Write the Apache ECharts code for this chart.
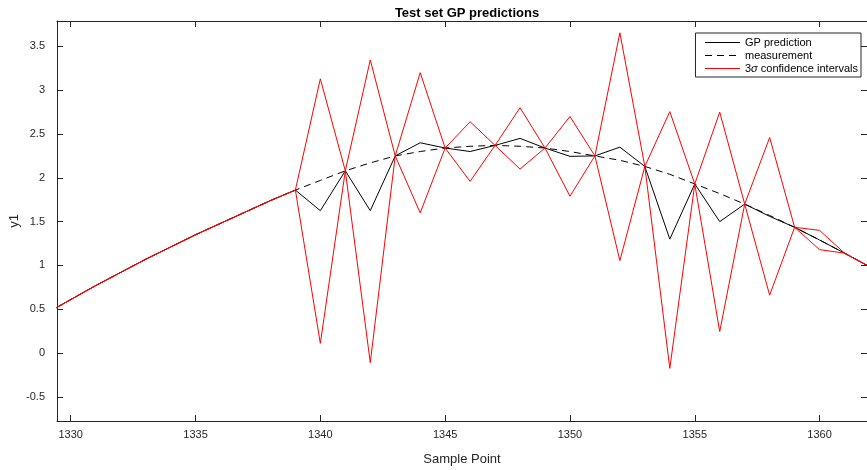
<!DOCTYPE html>
<html>
<head>
<meta charset="utf-8">
<script src="https://cdn.jsdelivr.net/npm/echarts@6/dist/echarts.min.js"></script>
<style>html,body{margin:0;padding:0;background:#fff}#c{width:867px;height:470px}</style>
</head>
<body>
<div id="c"></div>
<script>
const samples = [1329,1330,1331,1332,1333,1334,1335,1336,1337,1338,1339,1340,1341,1342,1343,1344,1345,1346,1347,1348,1349,1350,1351,1352,1353,1354,1355,1356,1357,1358,1359,1360,1361,1362];
const prediction = [0.45,0.61,0.77,0.92,1.07,1.21,1.35,1.48,1.61,1.74,1.86,1.625,2.08,1.625,2.25,2.40,2.34,2.30,2.37,2.45,2.34,2.245,2.25,2.35,2.13,1.30,1.93,1.50,1.70,1.56,1.435,1.29,1.14,0.985];
const measurement = [0.45,0.61,0.77,0.92,1.07,1.21,1.35,1.48,1.61,1.74,1.86,1.97,2.08,2.17,2.25,2.30,2.34,2.36,2.37,2.36,2.34,2.30,2.25,2.20,2.13,2.04,1.93,1.82,1.70,1.57,1.435,1.29,1.14,0.985];
const upper = [0.45,0.61,0.77,0.92,1.07,1.21,1.35,1.48,1.61,1.74,1.86,3.13,2.08,3.345,2.25,3.20,2.34,2.64,2.37,2.80,2.34,2.70,2.25,3.655,2.13,2.755,1.93,2.75,1.70,2.46,1.435,1.40,1.14,0.985];
const lower = [0.45,0.61,0.77,0.92,1.07,1.21,1.35,1.48,1.61,1.74,1.86,0.11,2.08,-0.11,2.25,1.60,2.34,1.96,2.37,2.10,2.34,1.79,2.25,1.055,2.13,-0.175,1.93,0.245,1.70,0.66,1.435,1.18,1.14,0.985];
const xTicks = [1330,1335,1340,1345,1350,1355,1360];
const yTicks = [-0.5,0,0.5,1,1.5,2,2.5,3,3.5];

const pair = arr => samples.map((s,i)=>[s,arr[i]]);
const FONT = 'Liberation Sans, Arial, Helvetica, sans-serif';
const AX = '#262626';
const CI = '3σ confidence intervals';

const chart = echarts.init(document.getElementById('c'), null, {renderer:'canvas'});
const xBase = {type:'value', min:1329.45, max:1361.9, splitLine:{show:false}};
const yBase = {type:'value', min:-0.776, max:3.79, splitLine:{show:false}};
chart.setOption({
  animation:false,
  backgroundColor:'#fff',
  title:{text:'Test set GP predictions', left:462, top:2, textAlign:'center',
    textStyle:{fontFamily:FONT, fontSize:13, fontWeight:'bold', color:'#000'}},
  grid:{left:57, right:0, top:21, bottom:49, containLabel:false, outerBoundsMode:'none'},
  legend:{orient:'vertical', right:6, top:33, itemWidth:35, itemHeight:11, itemGap:2,
    padding:[4,3,3,9], borderColor:AX, borderWidth:1, backgroundColor:'#fff', borderRadius:0,
    itemStyle:{opacity:0}, lineStyle:{width:1},
    data:['GP prediction','measurement',CI],
    formatter: n => n===CI ? '3{i|σ} confidence intervals' : n,
    textStyle:{fontFamily:FONT, fontSize:11, color:'#000', rich:{i:{fontStyle:'italic', fontFamily:FONT, fontSize:11, color:'#000'}}}},
  xAxis:[
    Object.assign({}, xBase, {position:'bottom', name:'Sample Point', nameLocation:'middle', nameGap:32,
      nameMoveOverlap:false,
      nameTextStyle:{fontFamily:FONT, fontSize:13, color:AX},
      axisLine:{onZero:false, lineStyle:{color:AX, width:1}},
      axisTick:{inside:true, length:6, customValues:xTicks, lineStyle:{color:AX}},
      axisLabel:{customValues:xTicks, margin:8, fontFamily:FONT, fontSize:11, color:AX, formatter:v=>String(v)}}),
    Object.assign({}, xBase, {position:'top',
      axisLine:{show:true, onZero:false, lineStyle:{color:AX, width:1}},
      axisTick:{inside:true, length:6, customValues:xTicks, lineStyle:{color:AX}},
      axisLabel:{show:false}})
  ],
  yAxis:[
    Object.assign({}, yBase, {position:'left', name:'y1', nameLocation:'middle', nameGap:36, nameRotate:90,
      nameMoveOverlap:false,
      nameTextStyle:{fontFamily:FONT, fontSize:13, color:AX},
      axisLine:{show:true, onZero:false, lineStyle:{color:AX, width:1}},
      axisTick:{show:true, inside:true, length:6, customValues:yTicks, lineStyle:{color:AX}},
      axisLabel:{customValues:yTicks, margin:12, fontFamily:FONT, fontSize:11, color:AX, formatter:v=>String(v)}}),
    Object.assign({}, yBase, {position:'right',
      axisLine:{show:true, onZero:false, lineStyle:{color:AX, width:1}},
      axisTick:{show:true, inside:true, length:6, customValues:yTicks, lineStyle:{color:AX}},
      axisLabel:{show:false}})
  ],
  series:[
    {name:'GP prediction', type:'line', data:pair(prediction), symbol:'none', showSymbol:false,
      lineStyle:{color:'#000', width:1}, itemStyle:{color:'#000'}, clip:true, z:2},
    {name:'measurement', type:'line', data:pair(measurement), symbol:'none', showSymbol:false,
      lineStyle:{color:'#000', width:1, type:[7,5]}, itemStyle:{color:'#000'}, clip:true, z:2},
    {name:CI, type:'line', data:pair(upper), symbol:'none', showSymbol:false,
      lineStyle:{color:'#ff0000', width:1}, itemStyle:{color:'#ff0000'}, clip:true, z:3},
    {name:CI, type:'line', data:pair(lower), symbol:'none', showSymbol:false,
      lineStyle:{color:'#ff0000', width:1}, itemStyle:{color:'#ff0000'}, clip:true, z:3}
  ]
});
</script>
</body>
</html>
